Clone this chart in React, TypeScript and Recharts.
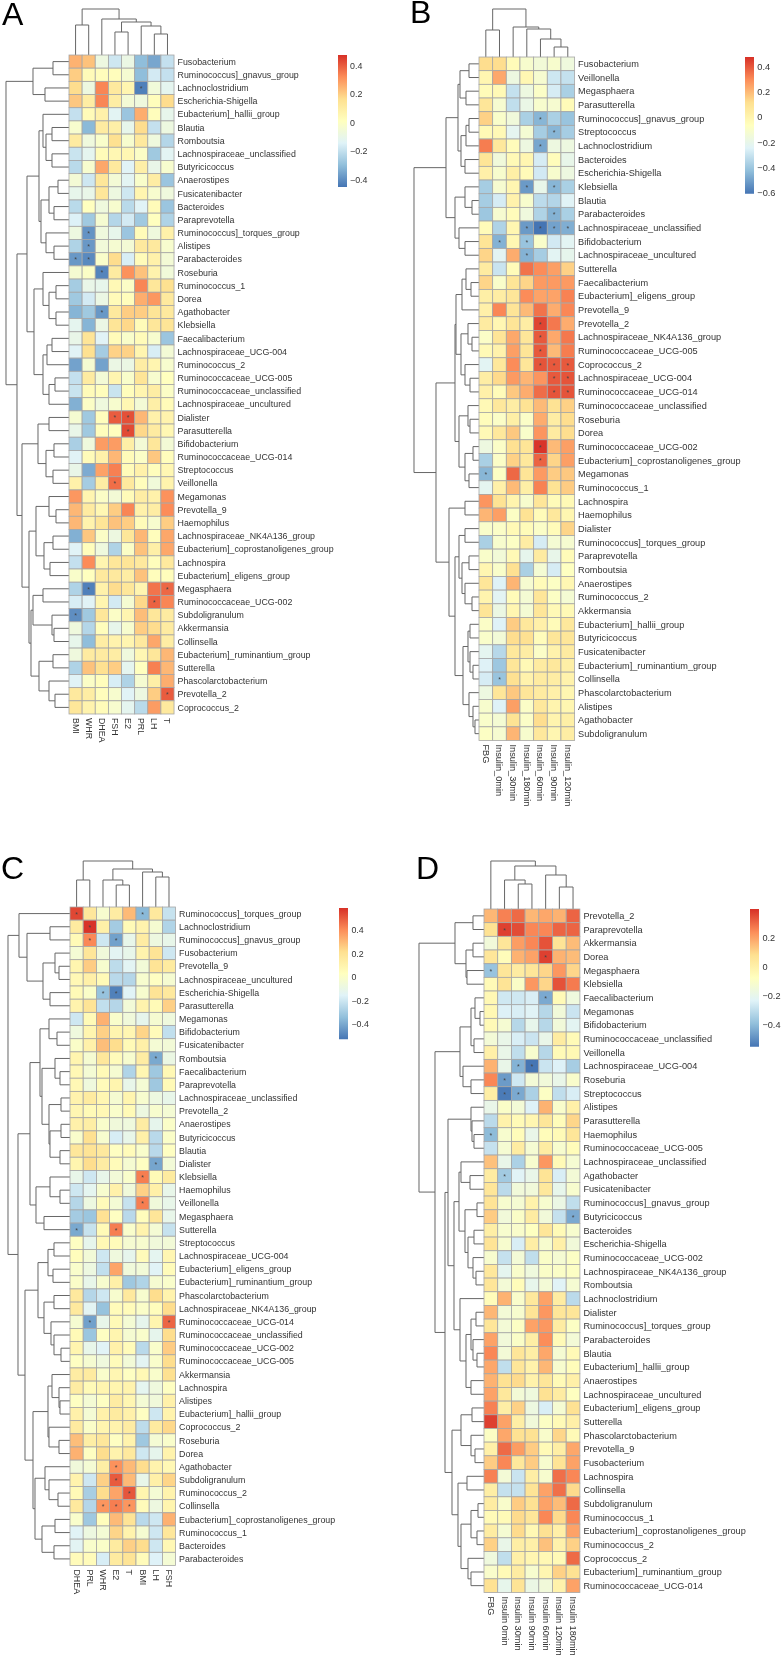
import { Bar, BarChart, ReferenceLine, Scatter, ScatterChart, XAxis, YAxis } from "recharts";

type Tree = number | [number, Tree, Tree];

const FONT = '"Liberation Sans", Arial, sans-serif';
const RAMP = ["#4575B4", "#91BFDB", "#E0F3F8", "#FFFFBF", "#FEE090", "#FC8D59", "#D73027"];

// panel A: sex hormones
const colsA = ["BMI", "WHR", "DHEA", "FSH", "E2", "PRL", "LH", "T"];
const taxaA = [
  "Fusobacterium", "Ruminococcus]_gnavus_group", "Lachnoclostridium", "Escherichia-Shigella", "Eubacterium]_hallii_group",
  "Blautia", "Romboutsia", "Lachnospiraceae_unclassified", "Butyricicoccus", "Anaerostipes",
  "Fusicatenibacter", "Bacteroides", "Paraprevotella", "Ruminococcus]_torques_group", "Alistipes",
  "Parabacteroides", "Roseburia", "Ruminococcus_1", "Dorea", "Agathobacter",
  "Klebsiella", "Faecalibacterium", "Lachnospiraceae_UCG-004", "Ruminococcus_2", "Ruminococcaceae_UCG-005",
  "Ruminococcaceae_unclassified", "Lachnospiraceae_uncultured", "Dialister", "Parasutterella", "Bifidobacterium",
  "Ruminococcaceae_UCG-014", "Streptococcus", "Veillonella", "Megamonas", "Prevotella_9",
  "Haemophilus", "Lachnospiraceae_NK4A136_group", "Eubacterium]_coprostanoligenes_group", "Lachnospira", "Eubacterium]_eligens_group",
  "Megasphaera", "Ruminococcaceae_UCG-002", "Subdoligranulum", "Akkermansia", "Collinsella",
  "Eubacterium]_ruminantium_group", "Sutterella", "Phascolarctobacterium", "Prevotella_2", "Coprococcus_2",
];
const valuesA = [
  [.25, .22, -.08, -.18, -.09, -.3, -.35, -.2],
  [.2, .03, .02, .02, -.04, -.3, -.17, -.2],
  [.17, -.08, .33, .12, .06, -.43, -.06, -.12],
  [.21, .1, .33, .1, -.05, -.07, .02, .17],
  [-.2, .03, .08, -.13, -.28, .26, .02, -.11],
  [-.03, -.31, .11, .09, -.11, .17, -.2, -.08],
  [.11, -.07, -.02, .16, -.03, .12, -.07, -.23],
  [-.19, -.12, .03, .05, .05, -.01, -.27, -.13],
  [-.22, -.03, .27, .12, -.14, .09, -.1, -.03],
  [-.05, -.18, .13, -.05, -.13, -.02, .1, -.28],
  [-.11, -.1, .13, -.08, -.18, .06, -.03, -.07],
  [-.22, .01, -.07, -.03, -.22, -.14, .03, -.28],
  [-.15, -.27, -.04, -.23, -.17, -.27, .01, -.24],
  [-.08, -.39, -.07, -.11, -.28, .03, -.07, .08],
  [-.24, -.38, -.06, -.04, -.05, .12, .12, -.03],
  [-.38, -.41, -.02, .17, -.16, .03, .08, -.05],
  [-.04, -.01, -.42, .11, .31, .22, .07, -.06],
  [-.26, -.1, -.11, .04, -.01, .33, .13, .16],
  [-.27, -.17, -.09, .03, .02, .26, .3, .12],
  [-.32, -.27, -.38, .12, .2, .2, .14, .12],
  [-.12, -.32, -.09, .14, .18, .03, .13, .14],
  [-.1, .14, -.14, .03, -.02, .03, -.03, -.28],
  [-.14, .16, -.26, .19, .19, .06, -.16, -.05],
  [-.36, -.04, -.36, -.09, -.09, .1, .06, -.03],
  [-.2, .11, -.05, .06, -.02, .14, -.03, .01],
  [-.19, .03, .02, -.19, .02, .06, .1, -.01],
  [-.33, -.01, -.07, -.03, .05, -.05, .09, .03],
  [-.04, -.27, .02, .4, .42, .24, .08, .07],
  [-.1, -.27, .02, .01, .43, .18, .11, .05],
  [-.25, -.07, .29, .29, .09, -.05, .13, -.05],
  [-.14, .03, .08, .24, .03, -.01, .21, .02],
  [-.1, -.34, .28, .34, .03, .08, .02, .05],
  [.08, -.26, .1, .37, .12, .02, -.06, .07],
  [.3, .06, -.01, -.05, .03, .1, .08, .31],
  [.24, .11, .05, .2, .33, .08, .1, .32],
  [.24, .07, .14, .22, .2, .03, -.03, .2],
  [-.33, .21, -.01, -.08, .13, .24, .02, .27],
  [-.14, .02, -.07, -.24, -.01, .22, .09, .27],
  [-.2, .32, .06, .13, .14, .12, .02, .12],
  [-.02, .01, .12, .12, .1, .22, .02, .02],
  [-.24, -.43, .08, .17, .13, .06, .36, .38],
  [-.16, -.14, .06, -.17, -.04, .18, .39, .33],
  [-.4, -.27, .13, -.01, .06, .23, .13, .11],
  [-.07, -.23, .02, -.11, -.03, .2, .17, .11],
  [-.11, -.3, .1, .07, .06, .12, .27, .1],
  [-.07, .11, .11, .1, -.07, .05, .13, .24],
  [-.24, .22, .16, .2, -.12, .01, .34, .24],
  [-.14, -.01, .02, -.16, -.24, -.04, .09, .26],
  [.12, .1, .02, -.03, -.14, -.08, .2, .4],
  [.13, .07, .03, -.03, -.12, -.22, .29, .12],
];
const starsA = [[2, 5], [13, 1], [14, 1], [15, 0], [15, 1], [16, 2], [19, 2], [27, 3], [27, 4], [28, 4], [32, 3], [40, 1], [40, 7], [41, 6], [42, 0], [48, 7]];
const rowTreeA: Tree = [63,
  [36, [16, 0, 0], [24, 0, 0]],
  [52,
    [42,
      [30,
        [26, 0, [23, [17, 0, 0], [17, 0, 0]]],
        [28, [20, [11, 0, 0], [15, 0, 0]], [23, 0, [15, 0, 0]]]],
      [35, [26, 0, [20, [13, 0, 0], [13, 0, 0]]], [26, [22, [17, 0, 0], 0], [20, [14, 0, 0], 0]]]],
    [47,
      [31, [20, 0, 0], [23, [15, 0, 0], [16, 0, 0]]],
      [40,
        [33, [20, 0, [13, 0, 0]], [25, [16, 0, 0], [19, 0, 0]]],
        [38, [36, [26, 0, 0], [17, 0, [15, 0, 0]]], [30, [16, 0, 0], [20, 0, [14, 0, 0]]]]]]]];
const colTreeA: Tree = [46, [30, 0, 0], [36, 0, [33, [23, 0, 0], [29, 0, [21, 0, 0]]]]];

// panel B: glucose tolerance test
const colsB = ["FBG", "Insulin_0min", "Insulin_30min", "Insulin_180min", "Insulin_60min", "Insulin_90min", "Insulin_120min"];
const taxaB = [
  "Fusobacterium", "Veillonella", "Megasphaera", "Parasutterella", "Ruminococcus]_gnavus_group",
  "Streptococcus", "Lachnoclostridium", "Bacteroides", "Escherichia-Shigella", "Klebsiella",
  "Blautia", "Parabacteroides", "Lachnospiraceae_unclassified", "Bifidobacterium", "Lachnospiraceae_uncultured",
  "Sutterella", "Faecalibacterium", "Eubacterium]_eligens_group", "Prevotella_9", "Prevotella_2",
  "Lachnospiraceae_NK4A136_group", "Ruminococcaceae_UCG-005", "Coprococcus_2", "Lachnospiraceae_UCG-004", "Ruminococcaceae_UCG-014",
  "Ruminococcaceae_unclassified", "Roseburia", "Dorea", "Ruminococcaceae_UCG-002", "Eubacterium]_coprostanoligenes_group",
  "Megamonas", "Ruminococcus_1", "Lachnospira", "Haemophilus", "Dialister",
  "Ruminococcus]_torques_group", "Paraprevotella", "Romboutsia", "Anaerostipes", "Ruminococcus_2",
  "Akkermansia", "Eubacterium]_hallii_group", "Butyricicoccus", "Fusicatenibacter", "Eubacterium]_ruminantium_group",
  "Collinsella", "Phascolarctobacterium", "Alistipes", "Agathobacter", "Subdoligranulum",
];
const valuesB = [
  [.12, .12, -.04, -.11, -.14, -.11, -.16],
  [-.01, .24, -.17, -.02, -.12, -.29, -.31],
  [-.04, -.03, -.31, -.17, -.09, -.27, -.37],
  [.08, -.12, -.32, -.19, -.11, -.12, -.04],
  [.15, -.1, -.15, -.37, -.45, -.37, -.41],
  [-.03, -.03, -.22, -.13, -.38, -.45, -.38],
  [.33, .07, -.05, -.17, -.49, -.17, -.17],
  [.09, -.15, -.03, -.01, -.27, -.05, -.2],
  [.02, -.11, .03, -.04, -.28, -.11, -.17],
  [-.38, -.12, -.01, -.52, -.2, -.45, -.37],
  [-.38, -.27, .01, -.11, -.33, -.35, -.24],
  [-.4, -.12, -.05, -.16, -.36, -.46, -.37],
  [-.04, -.36, -.01, -.52, -.61, -.5, -.47],
  [.09, -.46, -.02, -.41, -.1, -.28, -.23],
  [.14, -.23, .23, -.46, -.38, -.23, -.21],
  [.05, -.3, -.04, .35, .3, .26, .15],
  [.14, -.1, .09, .14, .27, .27, .27],
  [.03, .04, .08, .3, .25, .25, .32],
  [.02, .31, .09, .2, .35, .23, .31],
  [.05, -.02, .09, .04, .44, .34, .23],
  [-.09, .09, .24, .08, .4, .24, .34],
  [-.03, .01, .26, .09, .4, .2, .33],
  [-.23, .07, .3, .08, .41, .4, .4],
  [.04, .13, .27, .21, .28, .4, .41],
  [.02, -.04, .17, .23, .36, .41, .41],
  [-.03, .07, .04, .1, .2, .1, .15],
  [-.05, -.09, .03, -.09, .23, .04, .12],
  [-.03, .07, .17, -.1, .28, .05, .12],
  [-.17, -.09, .11, .09, .47, .2, .26],
  [-.37, -.09, .15, .07, .38, .14, .26],
  [-.45, -.08, .37, .09, .27, .16, .17],
  [-.22, .02, .2, .03, .32, .1, .16],
  [.28, .1, 0, -.11, .08, -.04, -.03],
  [.21, .26, -.08, .1, -.04, .07, -.01],
  [-.1, -.09, -.03, -.04, -.09, -.04, .14],
  [-.37, -.11, -.08, .04, -.27, -.13, -.12],
  [-.1, -.14, -.03, -.21, .05, -.2, -.04],
  [-.01, -.1, .11, -.37, -.13, -.27, -.07],
  [.08, -.25, .21, -.12, -.04, -.08, -.02],
  [0, -.23, -.04, -.13, .08, -.08, -.13],
  [.09, -.18, -.01, -.13, .08, -.03, -.03],
  [-.09, -.25, .16, .07, .02, -.04, .07],
  [-.1, -.14, .12, .11, -.05, .08, .08],
  [-.22, -.34, .07, .04, -.09, .01, .05],
  [-.25, -.4, .08, -.03, .05, .07, .03],
  [-.27, -.41, .11, .01, .05, .04, .01],
  [-.17, .08, .17, .08, .05, .02, -.01],
  [-.11, -.25, .26, -.09, .07, 0, -.01],
  [-.1, -.13, .1, -.09, .12, 0, .03],
  [-.08, -.12, .21, -.11, .07, -.01, .04],
];
const starsB = [[4, 4], [5, 5], [6, 4], [9, 3], [9, 5], [11, 5], [12, 3], [12, 4], [12, 5], [12, 6], [13, 1], [13, 3], [14, 3], [19, 4], [20, 4], [21, 4], [22, 4], [22, 5], [22, 6], [23, 5], [23, 6], [24, 5], [24, 6], [28, 4], [29, 4], [30, 0], [45, 1]];
const rowTreeB: Tree = [65,
  [33,
    [21,
      [19, [10, 0, 0], [13, 0, 0]],
      [18, [13, [10, 0, 0], 0], [14, 0, 0]]],
    [24, [14, 0, [7, 0, 0]], [20, 0, [14, 0, 0]]]],
  [43,
    [24,
      [23,
        [17, [13, 0, [8, 0, 0]], 0],
        [18, [11, 0, [7, 0, 0]], [14, 0, [9, 0, 0]]]],
      [20, [11, 0, [9, 0, 0]], [14, [6, 0, 0], [10, 0, 0]]]],
    [30,
      [14, 0, 0],
      [24,
        [20, [14, 0, 0], [17, [10, 0, 0], [14, 0, [7, 0, 0]]]],
        [16, [11, [9, 0, 0], [9, 0, [6, 0, 0]]], [10, 0, [6, 0, [4, 0, 0]]]]]]]];
const colTreeB: Tree = [48, [27, 0, 0], [30, 0, [28, 0, [18, 0, [10, 0, 0]]]]];

// panel C: sex hormones, second group
const colsC = ["DHEA", "PRL", "WHR", "E2", "T", "BMI", "LH", "FSH"];
const taxaC = [
  "Ruminococcus]_torques_group", "Lachnoclostridium", "Ruminococcus]_gnavus_group", "Fusobacterium", "Prevotella_9",
  "Lachnospiraceae_uncultured", "Escherichia-Shigella", "Parasutterella", "Megamonas", "Bifidobacterium",
  "Fusicatenibacter", "Romboutsia", "Faecalibacterium", "Paraprevotella", "Lachnospiraceae_unclassified",
  "Prevotella_2", "Anaerostipes", "Butyricicoccus", "Blautia", "Dialister",
  "Klebsiella", "Haemophilus", "Veillonella", "Megasphaera", "Sutterella",
  "Streptococcus", "Lachnospiraceae_UCG-004", "Eubacterium]_eligens_group", "Eubacterium]_ruminantium_group", "Phascolarctobacterium",
  "Lachnospiraceae_NK4A136_group", "Ruminococcaceae_UCG-014", "Ruminococcaceae_unclassified", "Ruminococcaceae_UCG-002", "Ruminococcaceae_UCG-005",
  "Akkermansia", "Lachnospira", "Alistipes", "Eubacterium]_hallii_group", "Coprococcus_2",
  "Roseburia", "Dorea", "Agathobacter", "Subdoligranulum", "Ruminococcus_2",
  "Collinsella", "Eubacterium]_coprostanoligenes_group", "Ruminococcus_1", "Bacteroides", "Parabacteroides",
];
const valuesC = [
  [.54, .17, -.02, .14, .3, -.36, .16, -.22],
  [.15, .58, .12, -.3, .06, .1, -.03, -.27],
  [.06, .41, -.2, -.42, -.11, .14, -.08, -.11],
  [-.04, .18, -.06, -.14, -.11, .1, .19, -.2],
  [.09, .26, -.02, -.24, -.14, -.05, .19, .15],
  [.07, .12, .06, -.25, -.26, -.02, .02, -.03],
  [.06, 0, -.33, -.5, -.15, -.02, .19, .16],
  [.1, .19, -.23, -.26, -.05, .1, .06, .25],
  [-.2, .06, .32, -.01, -.06, -.12, -.03, -.07],
  [-.07, .09, .25, .09, .08, .24, .05, -.23],
  [0, .11, .29, .22, .06, .12, -.04, -.05],
  [.09, -.03, .17, .05, -.02, .14, -.4, -.09],
  [.07, -.04, .06, -.03, -.27, .08, -.31, .07],
  [.07, -.07, .05, .09, -.11, -.04, -.31, .06],
  [.1, .15, .08, -.03, .09, -.02, -.08, -.11],
  [.08, .06, .07, -.01, .06, -.08, -.02, -.04],
  [.11, .13, -.01, -.06, -.07, .14, -.12, 0],
  [-.01, .21, -.02, -.18, -.11, .12, -.25, 0],
  [.17, .19, .16, .02, .05, -.01, -.25, .02],
  [.09, .22, .14, .05, -.03, .02, -.41, -.05],
  [-.11, -.2, -.11, -.05, -.01, .43, .06, .15],
  [-.2, -.13, -.02, .11, -.06, .25, .12, -.11],
  [-.26, -.08, .05, -.04, -.22, .43, -.06, -.11],
  [-.3, -.32, .2, .02, -.25, .04, .18, -.11],
  [-.4, -.22, .06, .43, -.01, .1, -.04, -.22],
  [.02, -.12, .07, .05, -.03, -.02, -.06, -.05],
  [.04, -.05, -.2, -.07, -.12, .05, -.13, .08],
  [-.01, -.08, -.23, .35, -.06, -.05, -.15, .05],
  [0, -.11, -.02, .12, -.31, -.27, -.03, -.01],
  [.16, -.26, -.2, -.02, .16, -.02, .22, .1],
  [.16, -.14, -.33, .05, .05, 0, .04, .22],
  [-.03, -.42, -.11, .06, -.04, -.12, .09, .48],
  [.06, -.32, .02, .09, -.03, -.01, -.12, .22],
  [.09, -.11, -.15, .11, .05, -.25, -.01, .26],
  [.02, -.03, -.07, .05, -.05, -.14, -.01, .22],
  [.14, .15, -.01, .08, .02, .07, -.01, .21],
  [.14, .06, .09, .09, .1, -.13, -.07, .02],
  [.02, -.04, .02, .14, .08, -.04, -.06, .11],
  [.11, -.04, .11, .15, .11, .02, -.2, .1],
  [.15, 0, .09, .1, .14, -.24, .15, .23],
  [.29, .13, .17, .02, .1, -.31, -.04, -.01],
  [.32, .02, .22, .1, .16, -.2, -.12, .1],
  [-.06, -.04, .13, .39, .3, .22, .1, .07],
  [.1, -.2, .25, .5, .3, -.11, .12, .24],
  [.06, -.29, .22, .35, .51, .09, -.04, .1],
  [.16, -.26, .38, .43, .38, .05, -.08, .09],
  [-.01, -.31, .04, .3, .19, -.25, -.2, .32],
  [-.15, -.08, -.04, .24, .1, -.03, -.2, .17],
  [-.14, -.01, 0, .15, .25, .22, -.2, .07],
  [.05, .05, -.18, .15, .19, .05, -.16, -.04],
];
const starsC = [[0, 0], [0, 5], [1, 1], [2, 1], [2, 3], [6, 2], [6, 3], [11, 6], [19, 6], [20, 5], [22, 5], [24, 0], [24, 3], [31, 1], [31, 7], [42, 3], [43, 3], [44, 4], [45, 2], [45, 3], [45, 4]];
const rowTreeC: Tree = [62,
  [51, 0, [43, [20, 0, 0], [27, [15, 0, [11, 0, 0]], [20, 0, 0]]]],
  [52,
    [40,
      [30,
        [21, 0, [13, 0, 0]],
        [28, [15, 0, [10, 0, 0]], [21, [9, 0, 0], [20, [9, 0, 0], [10, 0, 0]]]]],
      [34, [20, 0, [10, 0, 0]], [26, 0, 0]]],
    [45,
      [32, [22, [16, 0, 0], [17, 0, 0]], [26, [16, 0, 0], [19, 0, [16, 0, [9, 0, 0]]]]],
      [37,
        [22, [18, 0, [11, 0, [10, 0, 0]]], [21, 0, [11, 0, 0]]],
        [35, [25, 0, [21, 0, [12, 0, 0]]], [28, [15, 0, 0], [16, 0, 0]]]]]]];
const colTreeC: Tree = [46, [27, 0, 0], [38, [27, 0, [22, 0, 0]], [35, 0, [30, 0, 0]]]];

// panel D: glucose tolerance test, second group
const colsD = ["FBG", "Insulin 0min", "Insulin 30min", "Insulin 90min", "Insulin 60min", "Insulin 120min", "Insulin 180min"];
const taxaD = [
  "Prevotella_2", "Paraprevotella", "Akkermansia", "Dorea", "Megasphaera",
  "Klebsiella", "Faecalibacterium", "Megamonas", "Bifidobacterium", "Ruminococcaceae_unclassified",
  "Veillonella", "Lachnospiraceae_UCG-004", "Roseburia", "Streptococcus", "Alistipes",
  "Parasutterella", "Haemophilus", "Ruminococcaceae_UCG-005", "Lachnospiraceae_unclassified", "Agathobacter",
  "Fusicatenibacter", "Ruminococcus]_gnavus_group", "Butyricicoccus", "Bacteroides", "Escherichia-Shigella",
  "Ruminococcaceae_UCG-002", "Lachnospiraceae_NK4A136_group", "Romboutsia", "Lachnoclostridium", "Dialister",
  "Ruminococcus]_torques_group", "Parabacteroides", "Blautia", "Eubacterium]_hallii_group", "Anaerostipes",
  "Lachnospiraceae_uncultured", "Eubacterium]_eligens_group", "Sutterella", "Phascolarctobacterium", "Prevotella_9",
  "Fusobacterium", "Lachnospira", "Collinsella", "Subdoligranulum", "Ruminococcus_1",
  "Eubacterium]_coprostanoligenes_group", "Ruminococcus_2", "Coprococcus_2", "Eubacterium]_ruminantium_group", "Ruminococcaceae_UCG-014",
];
const valuesD = [
  [.16, .26, .3, .16, .19, .17, .31],
  [.07, .37, .35, .25, .25, .31, .31],
  [-.15, .05, .21, .25, .34, .06, .15],
  [.05, -.06, .17, .2, .37, .17, .15],
  [-.38, .05, .02, .05, .1, .22, .1],
  [-.05, .06, -.1, .22, .1, .34, .27],
  [-.04, -.27, -.27, -.25, -.44, -.05, -.16],
  [-.04, -.24, -.25, -.23, -.32, -.15, -.28],
  [-.05, -.13, -.32, -.2, -.32, -.15, -.22],
  [-.14, -.19, -.25, -.28, -.19, .02, -.05],
  [0, -.19, -.3, -.12, -.32, -.05, -.04],
  [.17, -.19, -.42, -.55, -.28, -.24, -.35],
  [.25, -.47, -.27, -.14, -.15, -.19, -.11],
  [.01, -.54, -.44, -.34, -.09, -.3, -.25],
  [-.19, -.1, -.14, -.24, .17, -.11, 0],
  [-.31, -.01, -.05, -.03, .05, -.06, .1],
  [-.4, -.12, -.06, -.19, -.06, -.05, .05],
  [-.29, -.13, .02, -.13, .02, -.12, -.06],
  [.14, -.19, -.34, -.12, .22, -.05, -.13],
  [.02, -.36, -.23, -.19, .06, -.25, -.14],
  [.05, -.31, -.15, -.15, .04, -.2, -.12],
  [.06, -.12, -.13, -.01, -.12, -.18, -.3],
  [.12, -.15, -.1, .02, -.15, -.29, -.44],
  [.01, -.12, -.11, -.08, .05, -.05, -.12],
  [.06, -.12, -.25, .01, -.12, 0, -.15],
  [-.12, -.29, -.14, -.3, -.1, -.13, -.09],
  [.04, -.21, -.11, -.16, -.1, -.1, -.09],
  [.05, -.14, -.06, -.2, -.14, -.23, -.13],
  [-.06, .17, -.11, .04, .2, .02, -.31],
  [.16, -.14, -.12, .06, .22, .05, .05],
  [.05, -.14, -.09, .2, .22, .02, -.09],
  [.2, -.15, -.1, .01, .24, -.05, -.14],
  [.25, -.14, .05, .01, .19, -.13, -.05],
  [.19, -.3, .05, -.01, .16, -.12, -.06],
  [.17, .07, .09, -.01, .05, -.05, 0],
  [.2, .04, -.14, -.16, .07, .02, -.08],
  [.26, .01, .11, -.17, -.25, -.13, .07],
  [.37, .2, .01, -.15, -.09, -.05, 0],
  [-.09, .19, .07, .07, -.11, .1, -.05],
  [0, .3, .21, .12, -.05, .01, .19],
  [.12, .25, .04, .12, -.12, .06, .2],
  [.26, -.14, -.28, .01, -.12, .29, .25],
  [.01, -.29, -.29, .06, .2, .29, .09],
  [.02, -.11, .12, .07, .2, .15, .3],
  [-.05, -.05, .09, .05, .25, .09, .25],
  [.02, -.13, .09, -.04, .07, 0, .2],
  [.11, -.19, .01, 0, .14, -.01, .11],
  [-.16, -.3, 0, -.03, -.04, -.05, .3],
  [-.11, -.05, .02, -.12, -.03, .11, .07],
  [.07, -.2, .06, -.18, -.15, -.01, .2],
];
const starsD = [[1, 1], [3, 4], [4, 0], [6, 4], [11, 2], [11, 3], [12, 1], [13, 1], [13, 2], [16, 0], [19, 1], [22, 6]];
const rowTreeD: Tree = [65,
  [29, [11, 0, 0], [18, [11, 0, 0], [17, 0, 0]]],
  [49,
    [24, [13, [9, 0, [4, 0, 0]], [10, 0, 0]], [21, 0, [13, 0, 0]]],
    [39,
      [36,
        [13, 0, [12, 0, [10, 0, 0]]],
        [30,
          [25, [23, 0, [14, 0, 0]], [19, [7, 0, 0], [16, [10, 0, 0], [11, 0, [8, 0, 0]]]]],
          [24, 0, [18, [13, [8, 0, 0], [11, 0, [7, 0, 0]]], [13, 0, 0]]]]],
      [32,
        [23, [12, 0, 0], [13, 0, [9, 0, 0]]],
        [26, [17, 0, 0], [23, [13, [6, 0, 0], [7, 0, 0]], [16, 0, [13, 0, 0]]]]]]]];
const colTreeD: Tree = [48, 0, [43, [29, 0, [25, 0, 0]], [34, 0, [22, 0, 0]]]];

const hexToRgb = (hex: string) => [1, 3, 5].map((i) => parseInt(hex.slice(i, i + 2), 16));

// colour position runs linearly between the legend's two ends
const cellColor = (v: number, lo: number, hi: number) => {
  const pos = Math.min(1, Math.max(0, (v - lo) / (hi - lo))) * (RAMP.length - 1);
  const i = Math.min(RAMP.length - 2, Math.floor(pos));
  const a = hexToRgb(RAMP[i]);
  const b = hexToRgb(RAMP[i + 1]);
  const c = a.map((ch, k) => Math.round(ch + (b[k] - ch) * (pos - i)));
  return `rgb(${c[0]},${c[1]},${c[2]})`;
};

type Seg = [number, number, number, number];

// walks a nested tree, returns leaf-order position of the node and pushes its three lines
const walkTree = (node: Tree, counter: { n: number }, segs: Seg[]): { pos: number; d: number } => {
  if (typeof node === "number") {
    counter.n += 1;
    return { pos: counter.n - 0.5, d: 0 };
  }
  const [d, l, r] = node;
  const a = walkTree(l, counter, segs);
  const b = walkTree(r, counter, segs);
  segs.push([a.pos, a.d, a.pos, d], [b.pos, b.d, b.pos, d], [a.pos, d, b.pos, d]);
  return { pos: (a.pos + b.pos) / 2, d };
};

const treeSegs = (tree: Tree) => {
  const segs: Seg[] = [];
  walkTree(tree, { n: 0 }, segs);
  return segs;
};

type PanelProps = {
  left: number;
  top: number;
  cellW: number;
  cellH: number;
  treeW: number;
  treeH: number;
  labelW: number;
  bottomH: number;
  fontSize: number;
  cols: string[];
  taxa: string[];
  values: number[][];
  stars: number[][];
  rowTree: Tree;
  colTree: Tree;
  lo: number;
  hi: number;
};

const Heatmap = ({ left, top, cellW, cellH, treeW, treeH, labelW, bottomH, fontSize, cols, taxa, values, stars, rowTree, colTree, lo, hi }: PanelProps) => {
  const starKeys = new Set(stars.map(([r, c]) => `${r}-${c}`));
  const cells = values.flatMap((row, r) =>
    row.map((v, c) => ({ x: c + 0.5, y: r + 0.5, v, star: starKeys.has(`${r}-${c}`) })),
  );
  const lineProps = { stroke: "#666", strokeWidth: 1, ifOverflow: "visible" as const };

  const renderCell = (p: any) => {
    const cell = p.payload;
    return (
      <g>
        <rect
          x={p.cx - cellW / 2}
          y={p.cy - cellH / 2}
          width={cellW}
          height={cellH}
          fill={cellColor(cell.v, lo, hi)}
          stroke="#a6a6a6"
          strokeWidth={0.8}
        />
        {cell.star && (
          <text x={p.cx} y={p.cy + 3} textAnchor="middle" fontSize={7} fill="#444" fontFamily={FONT}>
            *
          </text>
        )}
      </g>
    );
  };

  const renderColTick = (p: any) => (
    <text
      x={p.x}
      y={p.y + 4}
      transform={`rotate(90 ${p.x} ${p.y + 4})`}
      textAnchor="start"
      dominantBaseline="central"
      fontSize={fontSize}
      fill="#333"
      fontFamily={FONT}
    >
      {cols[Math.floor(p.payload.value)]}
    </text>
  );

  return (
    <div style={{ position: "absolute", left: left - treeW, top: top - treeH }}>
      <ScatterChart
        width={treeW + cols.length * cellW + labelW}
        height={treeH + taxa.length * cellH + bottomH}
        margin={{ top: 0, right: 0, bottom: 0, left: 0 }}
      >
        <XAxis
          type="number"
          dataKey="x"
          domain={[-treeW / cellW, cols.length]}
          ticks={cols.map((_, i) => i + 0.5)}
          interval={0}
          height={bottomH}
          axisLine={false}
          tickLine={false}
          tickSize={0}
          tickMargin={0}
          tick={renderColTick}
        />
        <YAxis
          type="number"
          dataKey="y"
          orientation="right"
          reversed
          domain={[-treeH / cellH, taxa.length]}
          ticks={taxa.map((_, i) => i + 0.5)}
          interval={0}
          width={labelW}
          axisLine={false}
          tickLine={false}
          tickSize={0}
          tickMargin={3.5}
          tickFormatter={(v: number) => taxa[Math.floor(v)]}
          tick={{ fontSize, fill: "#333", fontFamily: FONT }}
        />
        <Scatter data={cells} shape={renderCell} isAnimationActive={false} />
        {treeSegs(rowTree).map(([p1, d1, p2, d2], i) => (
          <ReferenceLine
            key={`r${i}`}
            {...lineProps}
            segment={[
              { x: -d1 / cellW, y: p1 },
              { x: -d2 / cellW, y: p2 },
            ]}
          />
        ))}
        {treeSegs(colTree).map(([p1, d1, p2, d2], i) => (
          <ReferenceLine
            key={`c${i}`}
            {...lineProps}
            segment={[
              { x: p1, y: -d1 / cellH },
              { x: p2, y: -d2 / cellH },
            ]}
          />
        ))}
      </ScatterChart>
    </div>
  );
};

const LEGEND_PAD = 8;

const Legend = ({ id, left, top, width, height, lo, hi, ticks, fontSize }: { id: string; left: number; top: number; width: number; height: number; lo: number; hi: number; ticks: number[]; fontSize: number }) => (
  <div style={{ position: "absolute", left, top: top - LEGEND_PAD }}>
    <BarChart
      width={width + 36}
      height={height + LEGEND_PAD * 2}
      data={[{ band: "legend", range: [lo, hi] }]}
      margin={{ top: LEGEND_PAD, right: 0, bottom: LEGEND_PAD, left: 0 }}
      barCategoryGap={0}
    >
      <defs>
        <linearGradient id={id} x1="0" y1="1" x2="0" y2="0">
          {RAMP.map((c, i) => (
            <stop key={c} offset={i / (RAMP.length - 1)} stopColor={c} />
          ))}
        </linearGradient>
      </defs>
      <XAxis dataKey="band" hide />
      <YAxis
        type="number"
        orientation="right"
        domain={[lo, hi]}
        ticks={ticks}
        interval={0}
        width={36}
        axisLine={false}
        tickLine={false}
        tickSize={0}
        tickMargin={3}
        tickFormatter={(v: number) => (v < 0 ? `\u2212${Math.abs(v)}` : `${v}`)}
        tick={{ fontSize, fill: "#333", fontFamily: FONT }}
      />
      <Bar dataKey="range" fill={`url(#${id})`} isAnimationActive={false} />
    </BarChart>
  </div>
);

const PanelTag = ({ text, left, baseline }: { text: string; left: number; baseline: number }) => (
  <div style={{ position: "absolute", left, top: baseline - 23, fontSize: 32, lineHeight: "24px", fontFamily: FONT, color: "#000" }}>
    {text}
  </div>
);

export default function App() {
  return (
    <div style={{ position: "absolute", left: 0, top: 0, width: 783, height: 1657, background: "#fff", overflow: "hidden", filter: "blur(0.3px)" }}>
      <PanelTag text="A" left={2} baseline={25} />
      <PanelTag text="B" left={410} baseline={23} />
      <PanelTag text="C" left={1} baseline={879} />
      <PanelTag text="D" left={416} baseline={879} />

      <Heatmap left={69} top={55.3} cellW={13.13} cellH={13.18} treeW={66} treeH={48} labelW={170} bottomH={40} fontSize={8.85} cols={colsA} taxa={taxaA} values={valuesA} stars={starsA} rowTree={rowTreeA} colTree={colTreeA} lo={-0.453} hi={0.473} />
      <Heatmap left={478.7} top={57.3} cellW={13.66} cellH={13.67} treeW={66} treeH={50} labelW={170} bottomH={74} fontSize={9.2} cols={colsB} taxa={taxaB} values={valuesB} stars={starsB} rowTree={rowTreeB} colTree={colTreeB} lo={-0.61} hi={0.48} />
      <Heatmap left={69.7} top={907.3} cellW={13.2} cellH={13.17} treeW={66} treeH={48} labelW={170} bottomH={40} fontSize={8.85} cols={colsC} taxa={taxaC} values={valuesC} stars={starsC} rowTree={rowTreeC} colTree={colTreeC} lo={-0.53} hi={0.587} />
      <Heatmap left={484.3} top={909.3} cellW={13.7} cellH={13.67} treeW={68} treeH={50} labelW={170} bottomH={64} fontSize={9.2} cols={colsD} taxa={taxaD} values={valuesD} stars={starsD} rowTree={rowTreeD} colTree={colTreeD} lo={-0.552} hi={0.398} />

      <Legend id="legA" left={338.3} top={55.3} width={9} height={132} fontSize={8.85} lo={-0.453} hi={0.473} ticks={[-0.4, -0.2, 0, 0.2, 0.4]} />
      <Legend id="legB" left={744.7} top={57.3} width={9.3} height={136.7} fontSize={9.2} lo={-0.61} hi={0.48} ticks={[-0.6, -0.4, -0.2, 0, 0.2, 0.4]} />
      <Legend id="legC" left={339.3} top={907.7} width={9.4} height={131.3} fontSize={8.85} lo={-0.53} hi={0.587} ticks={[-0.4, -0.2, 0, 0.2, 0.4]} />
      <Legend id="legD" left={750.3} top={909} width={9.4} height={137.7} fontSize={9.2} lo={-0.552} hi={0.398} ticks={[-0.4, -0.2, 0, 0.2]} />
    </div>
  );
}
